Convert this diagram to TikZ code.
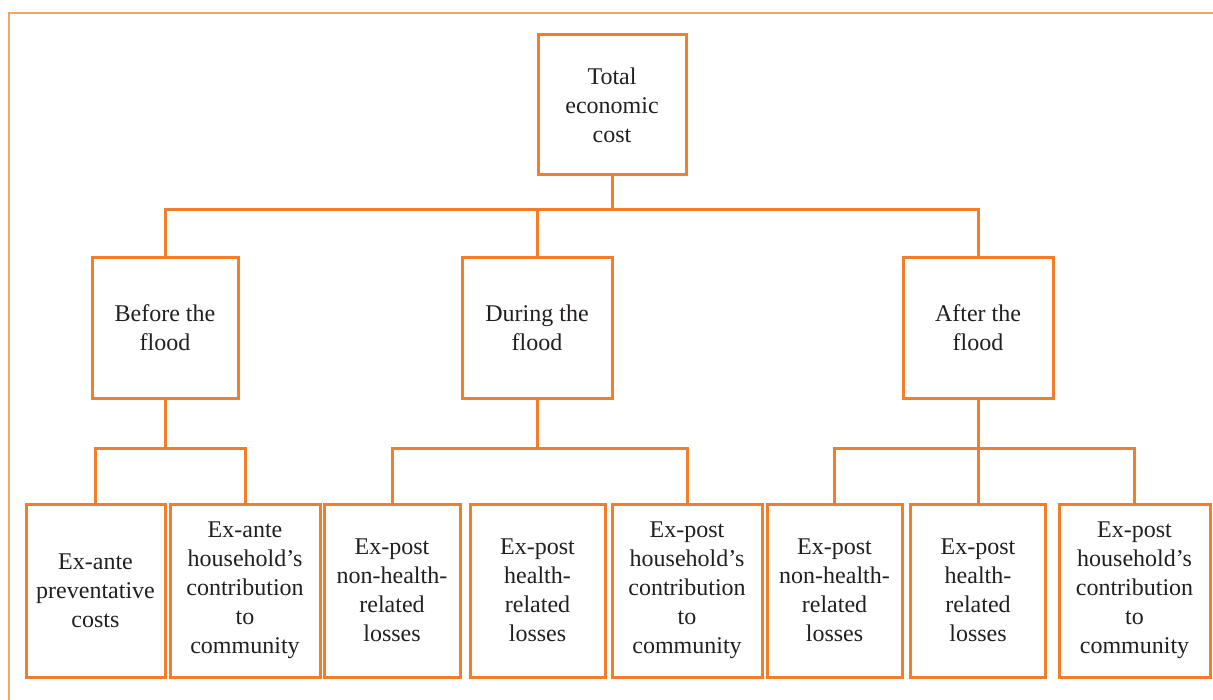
\documentclass[tikz,border=0pt]{standalone}
\usepackage{fontspec}
\setmainfont{Liberation Serif}
\usepackage{tikz}
\usepackage{xcolor}
\usetikzlibrary{positioning}
\definecolor{boxorange}{RGB}{242,125,42}
\definecolor{frameorange}{RGB}{246,165,105}
\definecolor{inkgray}{RGB}{35,31,32}

\begin{document}
\begin{tikzpicture}[
    x=0.5pt, y=-0.5pt,
    box/.style={rectangle, draw=boxorange, line width=1.5pt, inner sep=1pt, align=center, text=inkgray, font=\fontsize{12}{14.5}\selectfont},
    topbox/.style={box, minimum width=#1*0.5pt, minimum height=70pt},
    midbox/.style={box, minimum width=#1*0.5pt, minimum height=70.5pt},
    leafbox/.style={box, minimum width=#1*0.5pt, minimum height=86.5pt},
    link/.style={draw=boxorange, line width=1.5pt},
    frame/.style={draw=frameorange, line width=0.8pt}
]
\useasboundingbox (0,0) rectangle (1213,700);

% open frame
\draw[frame] (9,700) -- (9,13) -- (1213,13);

% levels
\node[topbox=148] (total) at (612,105) {Total\\economic\\cost};

\node[midbox=146] (before) at (165,327.5) {Before the\\flood};
\node[midbox=150] (during) at (537,327.5) {During the\\flood};
\node[midbox=150] (after) at (978,327.5) {After the\\flood};

\node[leafbox=139] (anteprev) at (95.5,590.5) {Ex-ante\\preventative\\costs};
\node[leafbox=150] (antehouse) at (245,590.5) {Ex-ante\\household’s\\contribution\\to\\community};
\node[leafbox=136] (durnon) at (392,590.5) {Ex-post\\non-health-\\related\\losses};
\node[leafbox=135] (durhealth) at (537.5,590.5) {Ex-post\\health-\\related\\losses};
\node[leafbox=150] (durhouse) at (687,590.5) {Ex-post\\household’s\\contribution\\to\\community};
\node[leafbox=135] (aftnon) at (834.5,590.5) {Ex-post\\non-health-\\related\\losses};
\node[leafbox=135] (afthealth) at (978,590.5) {Ex-post\\health-\\related\\losses};
\node[leafbox=151] (afthouse) at (1134.5,590.5) {Ex-post\\household’s\\contribution\\to\\community};

% bus lines
\coordinate (busA) at (0,209);
\coordinate (busB) at (0,448);

\draw[link] (total.south) -- (total.south |- busA);
\draw[link] (before.north) -- (before.north |- busA) -| (after.north);
\draw[link] (during.north) -- (during.north |- busA);

\draw[link] (before.south) -- (before.south |- busB);
\draw[link] (anteprev.north) -- (anteprev.north |- busB) -| (antehouse.north);

\draw[link] (during.south) -- (during.south |- busB);
\draw[link] (durnon.north) -- (durnon.north |- busB) -| (durhouse.north);

\draw[link] (after.south) -- (afthealth.north);
\draw[link] (aftnon.north) -- (aftnon.north |- busB) -| (afthouse.north);

\end{tikzpicture}
\end{document}
